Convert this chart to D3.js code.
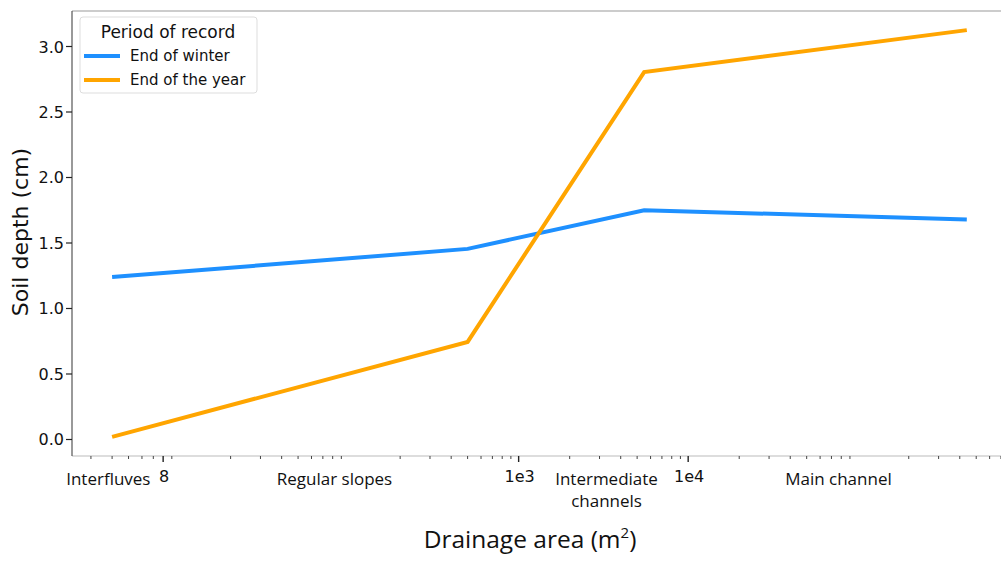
<!DOCTYPE html>
<html><head><meta charset="utf-8">
<script src="https://cdn.jsdelivr.net/npm/d3@7"></script>
<style>body{margin:0;background:#fff}svg{display:block}</style>
</head><body>
<svg id="c" width="1001" height="562"></svg>
<script>
const drainage = [4, 500, 5500, 440000];
const endOfWinter = [1.24, 1.455, 1.75, 1.68];
const endOfYear = [0.02, 0.745, 2.805, 3.125];
const seriesNames = ["End of winter", "End of the year"];
const seriesColors = ["#1E90FF", "#FFA500"];
const majorTicks = [8, 1e3, 1e4];
const majorLabels = ["8", "1e3", "1e4"];
const yTicks = [0, 0.5, 1.0, 1.5, 2.0, 2.5, 3.0];
const categories = [
  {lines: ["Interfluves"], at: 3.8},
  {lines: ["Regular slopes"], at: 82},
  {lines: ["Intermediate", "channels"], at: 3300},
  {lines: ["Main channel"], at: 77000}
];

const svg = d3.select("#c");
const L = 72, R = 1008, T = 11, B = 456;
const x = d3.scaleLog().domain([2.32, 7.7e5]).range([L, R]);
const y = d3.scaleLinear().domain([-0.126, 3.271]).range([B, T]);

// spines
svg.append("line").attr("x1", L).attr("x2", R).attr("y1", T).attr("y2", T).attr("stroke", "#999").attr("stroke-width", 1.2);
svg.append("line").attr("x1", L).attr("x2", R).attr("y1", B).attr("y2", B).attr("stroke", "#bbb").attr("stroke-width", 1.2);
svg.append("line").attr("x1", L).attr("x2", L).attr("y1", T).attr("y2", B).attr("stroke", "#555").attr("stroke-width", 1.2);

// minor ticks
const minor = [];
for (let e = 0; e <= 5; e++) for (let k = 2; k <= 9; k++) {
  const v = k * Math.pow(10, e);
  if (v > x.domain()[0] && v < x.domain()[1] && !majorTicks.includes(v)) minor.push(v);
}
svg.append("g").selectAll("line").data(minor).join("line")
  .attr("x1", d => x(d)).attr("x2", d => x(d)).attr("y1", B).attr("y2", B + 3)
  .attr("stroke", "#444").attr("stroke-width", 1);
svg.append("g").selectAll("line").data(majorTicks).join("line")
  .attr("x1", d => x(d)).attr("x2", d => x(d)).attr("y1", B).attr("y2", B + 6)
  .attr("stroke", "#222").attr("stroke-width", 1.4);
svg.append("g").selectAll("text").data(majorTicks).join("text")
  .attr("x", d => x(d) + 1).attr("y", 482).attr("text-anchor", "middle")
  .attr("font-family", "DejaVu Sans").attr("font-size", 16).attr("fill", "#111")
  .text((d, i) => majorLabels[i]);

// y ticks
svg.append("g").selectAll("line").data(yTicks).join("line")
  .attr("x1", L - 6).attr("x2", L).attr("y1", d => y(d)).attr("y2", d => y(d))
  .attr("stroke", "#222").attr("stroke-width", 1.2);
svg.append("g").selectAll("text").data(yTicks).join("text")
  .attr("x", L - 8).attr("y", d => y(d) + 6).attr("text-anchor", "end")
  .attr("font-family", "DejaVu Sans").attr("font-size", 16).attr("fill", "#111")
  .text(d => d.toFixed(1));

// category labels
const cg = svg.append("g");
categories.forEach(c => {
  c.lines.forEach((ln, i) => {
    cg.append("text").attr("x", x(c.at)).attr("y", 485 + i * 22).attr("text-anchor", "middle")
      .attr("font-family", "Open Sans").attr("font-size", 17).attr("fill", "#111").text(ln);
  });
});

// axis titles
svg.append("text").attr("transform", "translate(28,232) rotate(-90)").attr("text-anchor", "middle")
  .attr("font-family", "DejaVu Sans").attr("font-size", 22).attr("fill", "#111").text("Soil depth (cm)");
const xl = svg.append("text").attr("x", 530).attr("y", 548).attr("text-anchor", "middle")
  .attr("font-family", "Open Sans").attr("font-size", 24.5).attr("fill", "#111");
xl.append("tspan").text("Drainage area (m");
xl.append("tspan").attr("font-size", 15).attr("dy", -10).text("2");
xl.append("tspan").attr("dy", 10).text(")");

// lines
const line = d3.line().x((d, i) => x(drainage[i])).y(d => y(d));
[endOfWinter, endOfYear].forEach((s, i) => {
  svg.append("path").attr("d", line(s)).attr("fill", "none")
    .attr("stroke", seriesColors[i]).attr("stroke-width", 4);
});

// legend
const lg = svg.append("g");
lg.append("rect").attr("x", 80).attr("y", 17).attr("width", 177).attr("height", 76).attr("rx", 3)
  .attr("fill", "#fff").attr("stroke", "#ddd");
lg.append("text").attr("x", 168).attr("y", 38).attr("text-anchor", "middle")
  .attr("font-family", "DejaVu Sans").attr("font-size", 17).attr("fill", "#111").text("Period of record");
seriesNames.forEach((n, i) => {
  const yy = 56 + i * 24;
  lg.append("line").attr("x1", 84).attr("x2", 120).attr("y1", yy).attr("y2", yy)
    .attr("stroke", seriesColors[i]).attr("stroke-width", 4);
  lg.append("text").attr("x", 130).attr("y", yy + 5).attr("font-family", "DejaVu Sans")
    .attr("font-size", 15).attr("fill", "#111").text(n);
});
</script>
</body></html>
